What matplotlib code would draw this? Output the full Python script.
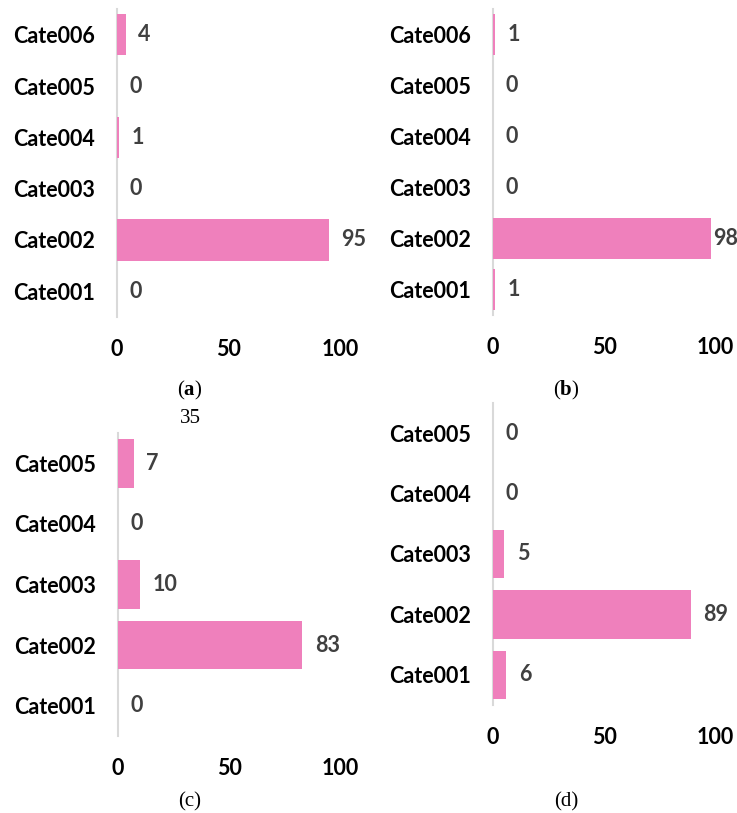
import matplotlib
matplotlib.use('Agg')
import matplotlib.pyplot as plt

plt.rcParams['mathtext.fontset'] = 'custom'
plt.rcParams['mathtext.rm'] = 'Liberation Serif'
plt.rcParams['mathtext.bf'] = 'Liberation Serif:bold'

# data for the four panels (bottom to top)
cats_6 = ['Cate001', 'Cate002', 'Cate003', 'Cate004', 'Cate005', 'Cate006']
cats_5 = ['Cate001', 'Cate002', 'Cate003', 'Cate004', 'Cate005']
vals_a = [0, 95, 0, 1, 0, 4]
vals_b = [1, 98, 0, 0, 0, 1]
vals_c = [0, 83, 10, 0, 7]
vals_d = [6, 89, 5, 0, 0]
x_ticks = [0, 50, 100]

BAR_COLOR = '#ef80bc'
LABEL_FONT = 'Lato'
FS = 15.5
W, H = 737, 813


def add_panel(fig, box, cats, vals):
    # box in pixels: left, top, right, bottom
    left, top, right, bottom = box
    ax = fig.add_axes([left / W, 1 - bottom / H, (right - left) / W, (bottom - top) / H])
    pos = range(len(cats))
    ax.barh(pos, vals, height=0.8, color=BAR_COLOR, zorder=2)
    ax.set_xlim(0, 100)
    ax.set_ylim(-0.5, len(cats) - 0.5)
    ax.set_yticks(list(pos))
    ax.set_yticklabels(cats, fontfamily=LABEL_FONT, fontweight='bold', fontsize=FS)
    ax.set_xticks(x_ticks)
    ax.set_xticklabels([str(t) for t in x_ticks], fontfamily=LABEL_FONT,
                       fontweight='bold', fontsize=FS)
    ax.tick_params(axis='y', length=0, pad=16)
    ax.tick_params(axis='x', length=0, pad=16)
    for s in ['top', 'right', 'bottom']:
        ax.spines[s].set_visible(False)
    ax.spines['left'].set_color('#d9d9d9')
    ax.spines['left'].set_linewidth(1.5)
    ax.spines['left'].set_zorder(1)
    for i, v in enumerate(vals):
        # labels near the right edge get squeezed against the bar
        off = 2 if v > 96 else 9
        ax.annotate(str(v), (v, i), xytext=(off, 0), textcoords='offset points',
                    va='center', ha='left', fontfamily=LABEL_FONT,
                    fontweight='bold', fontsize=FS, color='#404040',
                    annotation_clip=False)
    return ax


fig = plt.figure(figsize=(W / 100, H / 100), dpi=100)

add_panel(fig, (117, 9, 340, 317), cats_6, vals_a)
add_panel(fig, (493, 9, 715, 315), cats_6, vals_b)
add_panel(fig, (118, 433, 340, 736), cats_5, vals_c)
add_panel(fig, (493, 403, 715, 705), cats_5, vals_d)

cap = dict(ha='center', va='center', fontsize=15, fontfamily='Liberation Serif')
fig.text(190 / W, 1 - 390 / H, r'($\mathbf{a}$)', **cap)
fig.text(566 / W, 1 - 390 / H, r'($\mathbf{b}$)', **cap)
fig.text(190 / W, 1 - 418 / H, '35', **cap)
fig.text(190 / W, 1 - 802 / H, '(c)', **cap)
fig.text(566 / W, 1 - 802 / H, '(d)', **cap)

fig.savefig('out.png', dpi=100)
